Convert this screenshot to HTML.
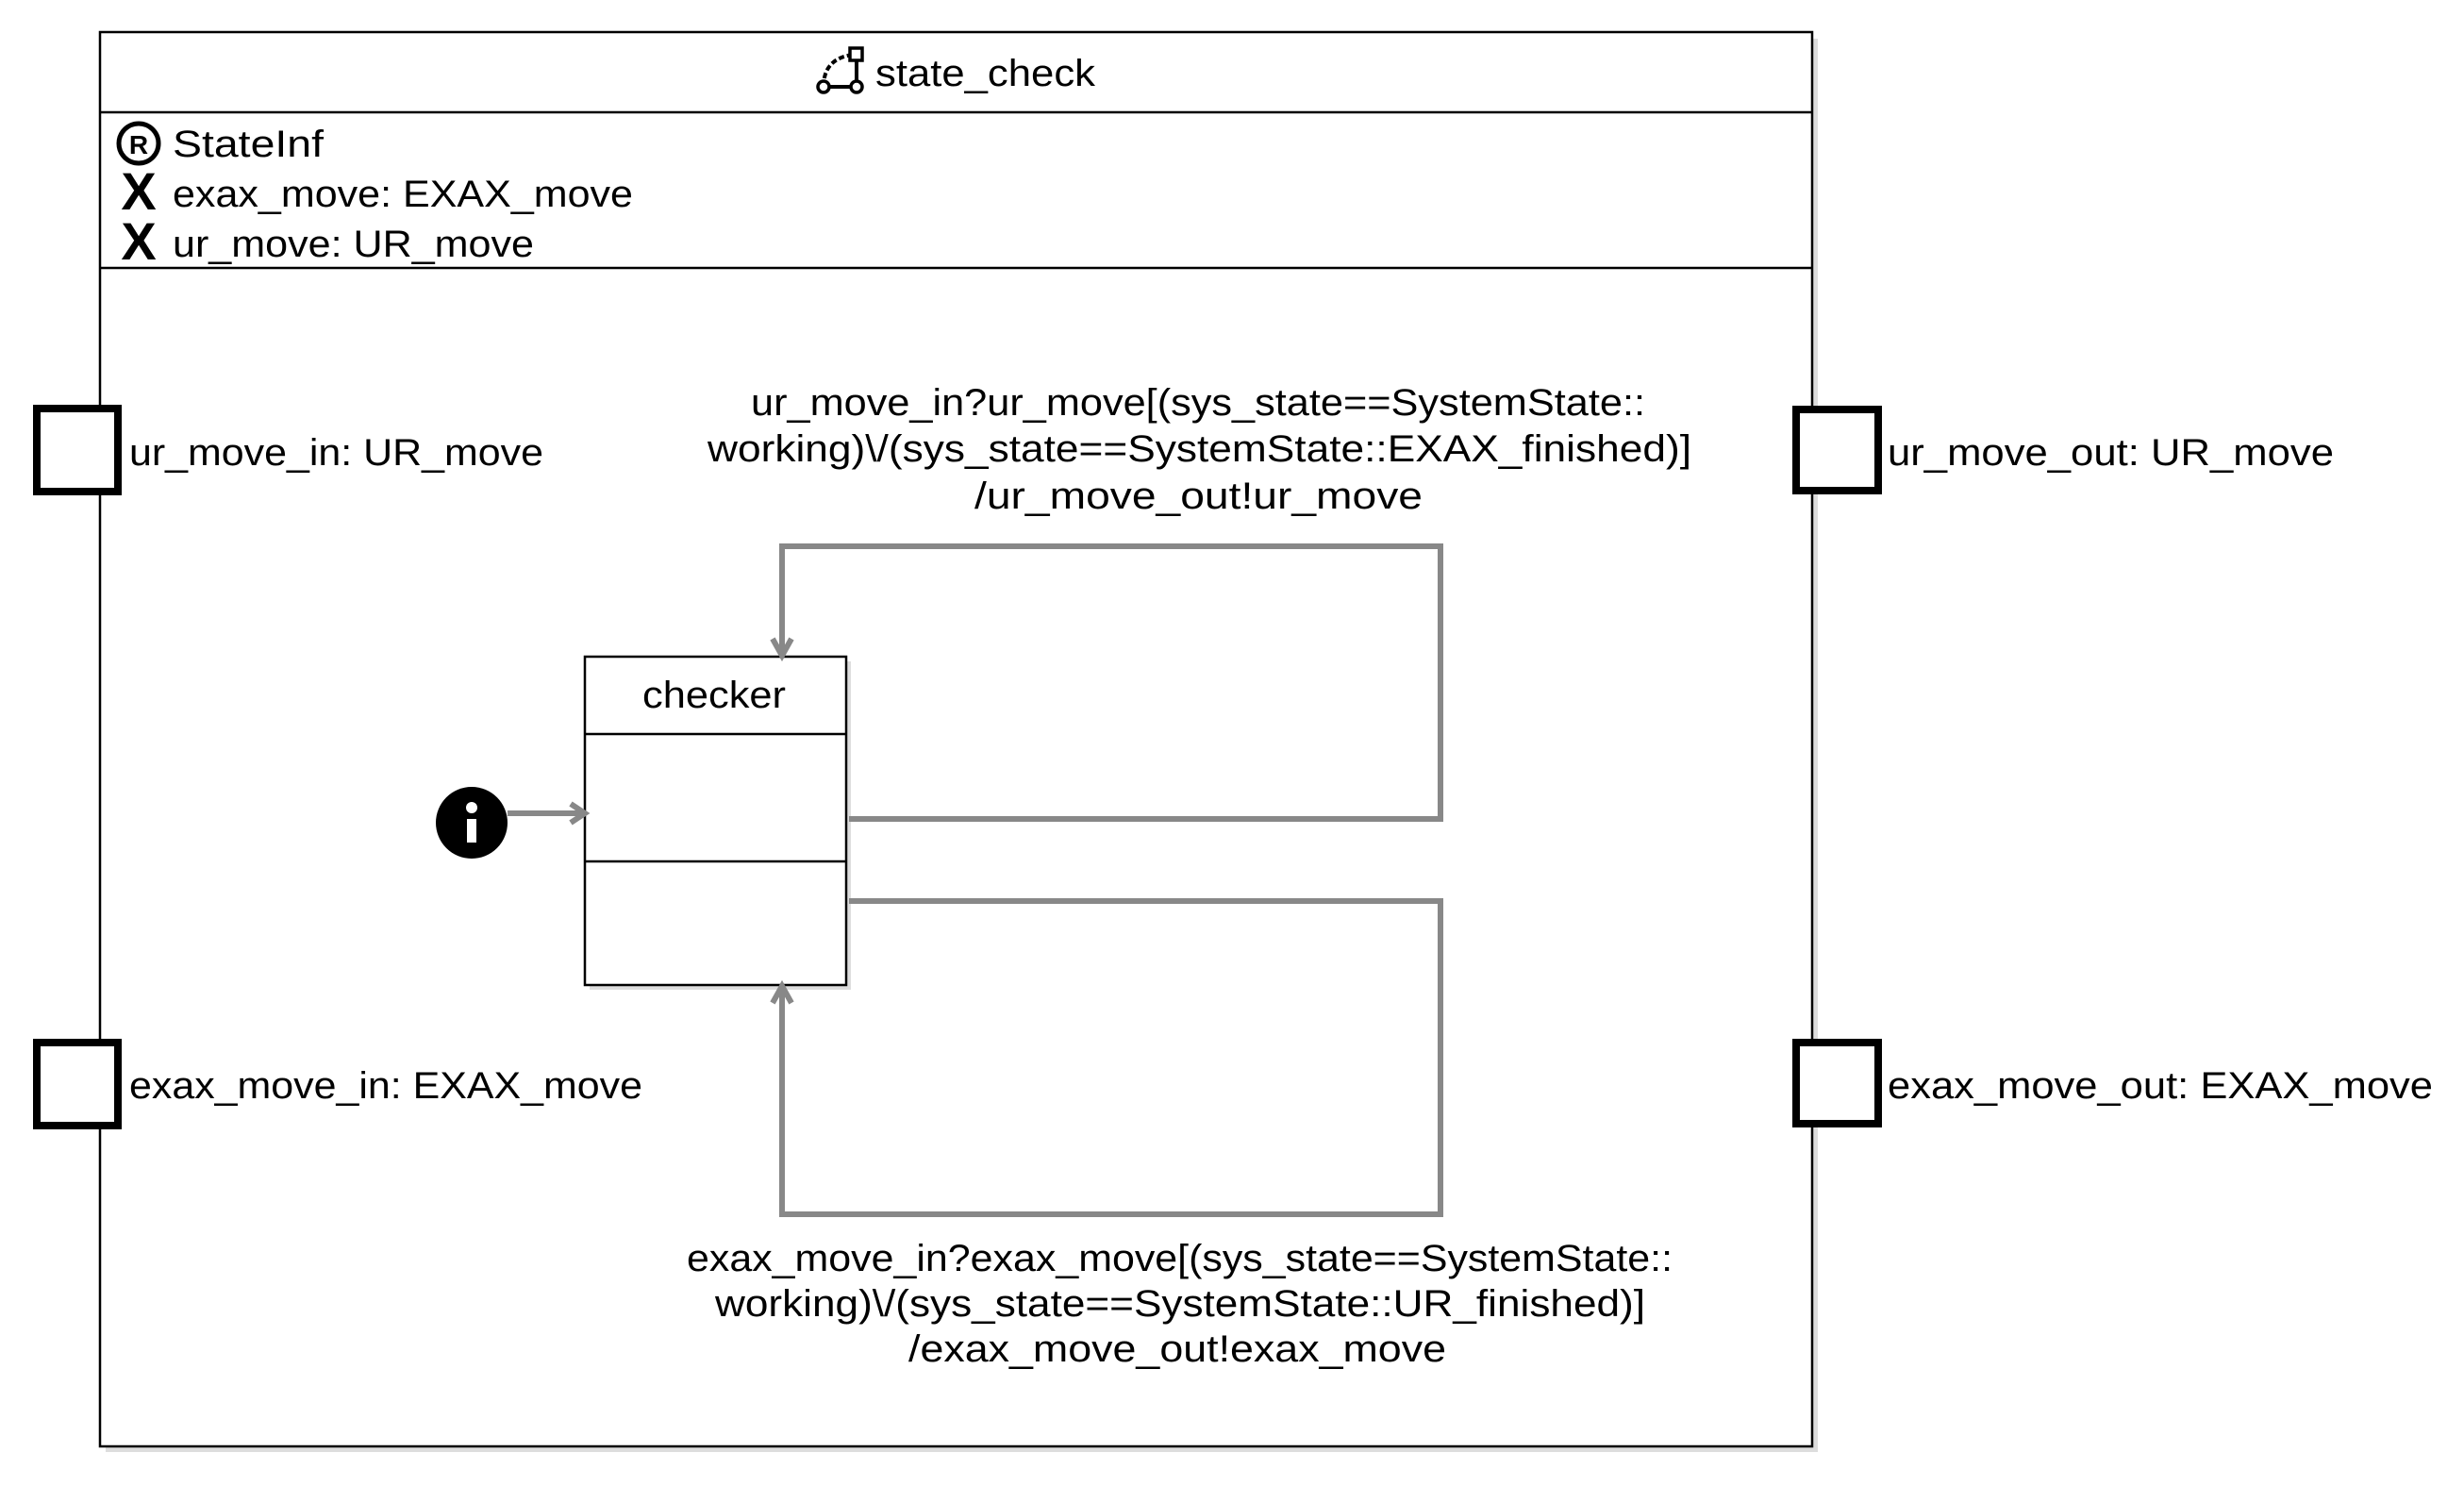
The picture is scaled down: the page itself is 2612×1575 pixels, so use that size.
<!DOCTYPE html>
<html><head><meta charset="utf-8"><style>
html,body{margin:0;padding:0;background:#fff;}
svg{display:block;}
text{font-family:"Liberation Sans","DejaVu Sans",sans-serif;font-size:40px;fill:#000;}
</style></head><body>
<svg width="2612" height="1575" viewBox="0 0 2612 1575" xmlns="http://www.w3.org/2000/svg">
<defs>
<marker id="ah" viewBox="0 0 10 10" refX="9" refY="5" markerWidth="5" markerHeight="5" orient="auto" markerUnits="userSpaceOnUse">
</marker>
</defs>
<!-- frame shadow -->
<rect x="112" y="41" width="1815" height="1498" fill="#ddd"/>
<rect x="106" y="34" width="1815" height="1499" fill="#fff" stroke="#000" stroke-width="2.5"/>
<line x1="106" y1="119" x2="1921" y2="119" stroke="#000" stroke-width="2.5"/>
<line x1="106" y1="284" x2="1921" y2="284" stroke="#000" stroke-width="2.5"/>
<!-- title icon -->
<path d="M873 92 Q873 62 904 58" fill="none" stroke="#000" stroke-width="4" stroke-dasharray="6 3"/>
<line x1="873" y1="92" x2="908" y2="92" stroke="#000" stroke-width="4"/>
<line x1="908" y1="62" x2="908" y2="92" stroke="#000" stroke-width="4"/>
<circle cx="873" cy="92" r="6" fill="#fff" stroke="#000" stroke-width="3.5"/>
<circle cx="908" cy="92" r="6" fill="#fff" stroke="#000" stroke-width="3.5"/>
<rect x="901" y="51" width="13" height="13" fill="#fff" stroke="#000" stroke-width="3.5"/>
<text x="928" y="91" textLength="233" lengthAdjust="spacingAndGlyphs">state_check</text>
<!-- attributes -->
<circle cx="147" cy="152" r="21" fill="#fff" stroke="#000" stroke-width="5"/>
<text x="147" y="163" text-anchor="middle" style="font-size:28px;font-weight:bold">R</text>
<text x="183" y="166" textLength="160" lengthAdjust="spacingAndGlyphs">StateInf</text>
<text x="147" y="222" text-anchor="middle" style="font-size:56px;font-weight:bold">X</text>
<text x="183" y="219" textLength="488" lengthAdjust="spacingAndGlyphs">exax_move: EXAX_move</text>
<text x="147" y="275" text-anchor="middle" style="font-size:56px;font-weight:bold">X</text>
<text x="183" y="272" textLength="383" lengthAdjust="spacingAndGlyphs">ur_move: UR_move</text>
<!-- ports -->
<rect x="39" y="433" width="86" height="88" fill="#fff" stroke="#000" stroke-width="8"/>
<rect x="39" y="1105" width="86" height="88" fill="#fff" stroke="#000" stroke-width="8"/>
<rect x="1904" y="434" width="87" height="86" fill="#fff" stroke="#000" stroke-width="8"/>
<rect x="1904" y="1105" width="87" height="86" fill="#fff" stroke="#000" stroke-width="8"/>
<text x="137" y="493" textLength="439" lengthAdjust="spacingAndGlyphs">ur_move_in: UR_move</text>
<text x="137" y="1164" textLength="544" lengthAdjust="spacingAndGlyphs">exax_move_in: EXAX_move</text>
<text x="2001" y="493" textLength="473" lengthAdjust="spacingAndGlyphs">ur_move_out: UR_move</text>
<text x="2001" y="1164" textLength="578" lengthAdjust="spacingAndGlyphs">exax_move_out: EXAX_move</text>
<!-- checker state -->
<rect x="625" y="701" width="277" height="348" fill="#ddd"/>
<rect x="620" y="696" width="277" height="348" fill="#fff" stroke="#000" stroke-width="2.5"/>
<line x1="620" y1="778" x2="897" y2="778" stroke="#000" stroke-width="2.5"/>
<line x1="620" y1="913" x2="897" y2="913" stroke="#000" stroke-width="2.5"/>
<text x="681" y="750" textLength="152" lengthAdjust="spacingAndGlyphs">checker</text>
<!-- initial -->
<circle cx="500" cy="872" r="38" fill="#000"/>
<rect x="495" y="868" width="10" height="25" fill="#fff"/>
<circle cx="500" cy="856" r="6" fill="#fff"/>
<!-- transitions -->
<g stroke="#888" stroke-width="6" fill="none">
<line x1="538" y1="862" x2="618" y2="862"/>
<polyline points="605,852 620,862 605,872"/>
<polyline points="900,868 1527,868 1527,579 829,579 829,692"/>
<polyline points="819,677 829,695 839,677"/>
<polyline points="900,955 1527,955 1527,1287 829,1287 829,1048"/>
<polyline points="819,1063 829,1045 839,1063"/>
</g>
<!-- labels -->
<text x="796" y="440" textLength="948" lengthAdjust="spacingAndGlyphs">ur_move_in?ur_move[(sys_state==SystemState::</text>
<text x="750" y="489" textLength="1043" lengthAdjust="spacingAndGlyphs">working)\/(sys_state==SystemState::EXAX_finished)]</text>
<text x="1033" y="539" textLength="475" lengthAdjust="spacingAndGlyphs">/ur_move_out!ur_move</text>
<text x="728" y="1347" textLength="1045" lengthAdjust="spacingAndGlyphs">exax_move_in?exax_move[(sys_state==SystemState::</text>
<text x="758" y="1395" textLength="986" lengthAdjust="spacingAndGlyphs">working)\/(sys_state==SystemState::UR_finished)]</text>
<text x="963" y="1443" textLength="570" lengthAdjust="spacingAndGlyphs">/exax_move_out!exax_move</text>
</svg>
</body></html>
